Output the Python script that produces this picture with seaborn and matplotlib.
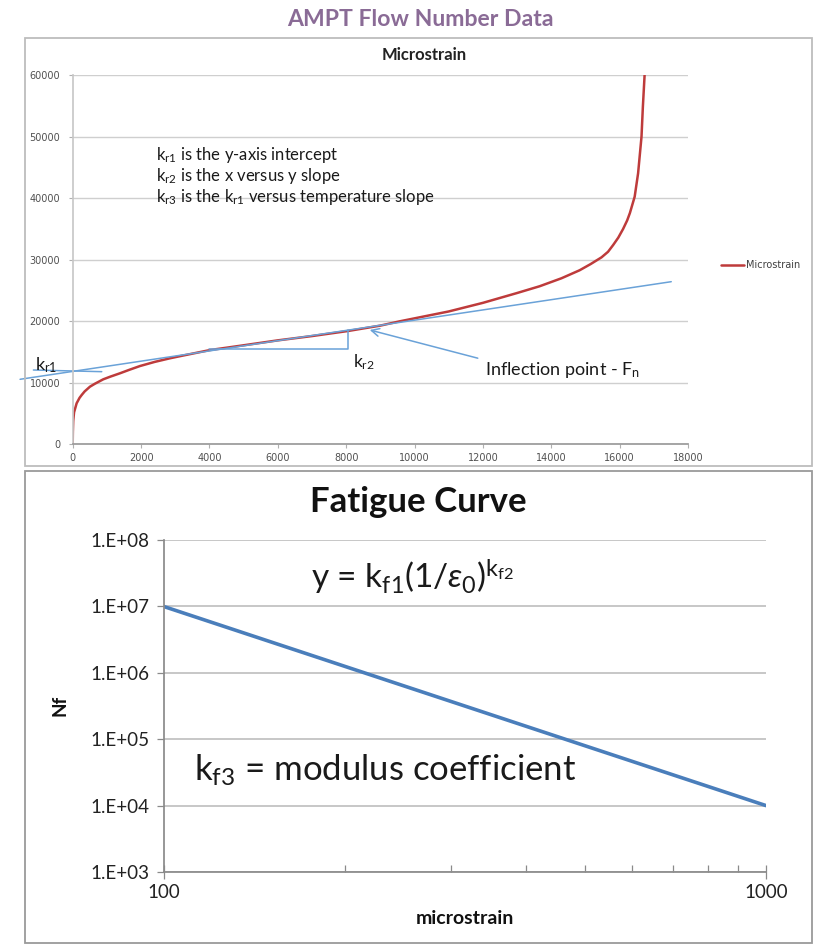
import matplotlib
matplotlib.use("Agg")
import matplotlib.pyplot as plt
import seaborn as sns
import pandas as pd
from matplotlib.patches import Rectangle
from matplotlib.ticker import FixedLocator, FixedFormatter, NullFormatter

# ---------------- data ----------------
cycles = [0, 5, 15, 40, 115, 200, 263, 350, 505, 650, 895, 1100, 1380, 1650, 1970,
          2400, 2840, 3200, 4020, 5000, 6000, 7000, 8050, 9000, 9570, 11000, 12000,
          13000, 13660, 14300, 14830, 15150, 15470, 15660, 15810, 15960, 16100,
          16220, 16300, 16440, 16540, 16640, 16680, 16730]
microstrain = [0, 2000, 3800, 5200, 6670, 7550, 8020, 8600, 9370, 9850, 10570, 11000,
               11540, 12100, 12730, 13400, 13980, 14400, 15330, 16100, 16900, 17600,
               18420, 19300, 20000, 21600, 23000, 24600, 25700, 27000, 28300, 29300,
               30400, 31300, 32400, 33600, 35000, 36400, 37600, 40260, 44060, 50020,
               54900, 60000]
tangent_x = [-1540, 17510]
tangent_y = [10570, 26440]
kr1_pointer_x = [-1150, 850]
kr1_pointer_y = [12080, 11810]
slope_x = [4000, 8060, 8060]
slope_y = [15450, 15450, 18580]
x_ticks_top = [0, 2000, 4000, 6000, 8000, 10000, 12000, 14000, 16000, 18000]
y_ticks_top = [0, 10000, 20000, 30000, 40000, 50000, 60000]

fatigue_strain = [100, 1000]
fatigue_nf = [1e7, 1e4]
y_ticks_fat = [1e3, 1e4, 1e5, 1e6, 1e7, 1e8]
y_labels_fat = ["1.E+03", "1.E+04", "1.E+05", "1.E+06", "1.E+07", "1.E+08"]
x_ticks_fat = [100, 1000]
x_labels_fat = ["100", "1000"]
x_minor_fat = [200, 300, 400, 500, 600, 700, 800, 900]

# ---------------- style ----------------
sns.set_theme(style="white")
plt.rcParams['font.family'] = ['Lato', 'DejaVu Sans']
plt.rcParams['mathtext.fontset'] = 'custom'
plt.rcParams['mathtext.rm'] = 'Lato'
plt.rcParams['mathtext.it'] = 'Lato:italic'
plt.rcParams['mathtext.bf'] = 'Lato:bold'

W, H = 814, 944
fig = plt.figure(figsize=(W / 100, H / 100), dpi=100)

def fx(px):
    return px / W

def fy(py):
    return 1 - py / H

RED = '#BE3B3B'
LBLUE = '#6aa2d8'
BLUE = '#4a7ebb'
GRID = '#cfcfcf'

# frames
fig.patches.append(Rectangle((fx(25), fy(466)), (812 - 25) / W, (466 - 38) / H,
                             transform=fig.transFigure, fill=False, ec='#bdbdbd', lw=1.3))
fig.patches.append(Rectangle((fx(25), fy(943)), (812 - 25) / W, (943 - 471) / H,
                             transform=fig.transFigure, fill=False, ec='#9a9a9a', lw=1.3))

fig.text(fx(420), fy(19), "AMPT Flow Number Data", color='#8a6b96', fontsize=16.6,
         fontweight='bold', ha='center', va='center')
fig.text(fx(424), fy(55), "Microstrain", color='#222222', fontsize=12,
         fontweight='bold', ha='center', va='center')

# ---------------- top chart ----------------
ax1 = fig.add_axes([fx(72.7), fy(444.3), (688 - 72.7) / W, (444.3 - 75.3) / H])
df_top = pd.DataFrame({'cycles': cycles, 'microstrain': microstrain})
sns.lineplot(data=df_top, x='cycles', y='microstrain', ax=ax1, color=RED, lw=1.8,
             sort=False, estimator=None, label='Microstrain')
ax1.lines[-1].set_solid_joinstyle('round')
sns.lineplot(x=tangent_x, y=tangent_y, ax=ax1, color=LBLUE, lw=1.1, sort=False,
             estimator=None)
ax1.lines[-1].set_clip_on(False)
sns.lineplot(x=kr1_pointer_x, y=kr1_pointer_y, ax=ax1, color=LBLUE, lw=1.1,
             sort=False, estimator=None)
ax1.lines[-1].set_clip_on(False)
sns.lineplot(x=slope_x, y=slope_y, ax=ax1, color=LBLUE, lw=1.1, sort=False,
             estimator=None)
ax1.annotate("", xy=(8690, 18590), xytext=(11850, 14000),
             arrowprops=dict(arrowstyle='->', color=LBLUE, lw=1.1, mutation_scale=14,
                             shrinkA=0, shrinkB=0))

ax1.set_xlim(0, 18000)
ax1.set_ylim(0, 60000)
ax1.set_xticks(x_ticks_top)
ax1.set_yticks(y_ticks_top)
ax1.set_xticklabels([str(v) for v in x_ticks_top])
ax1.set_yticklabels([str(v) for v in y_ticks_top])
ax1.tick_params(axis='both', labelsize=7, labelcolor='#505050', color='#b0b0b0',
                length=3, width=0.8, direction='out', bottom=True, left=True)
ax1.tick_params(axis='x', pad=3)
ax1.tick_params(axis='y', pad=6)
for lab in ax1.get_xticklabels() + ax1.get_yticklabels():
    lab.set_family(['DejaVu Sans'])
ax1.yaxis.grid(True, color=GRID, lw=1.0)
ax1.xaxis.grid(False)
ax1.set_axisbelow(True)
for s in ['top', 'right']:
    ax1.spines[s].set_visible(False)
ax1.spines['left'].set_color('#c8c8c8')
ax1.spines['bottom'].set_color('#9a9a9a')
ax1.set_xlabel('')
ax1.set_ylabel('')

txt_kw = dict(fontsize=12, color='#1a1a1a', va='center', ha='left')
ax1.text(2450, 47040, r"$\mathregular{k_{r1}}$ is the y-axis intercept", **txt_kw)
ax1.text(2450, 43620, r"$\mathregular{k_{r2}}$ is the x versus y slope", **txt_kw)
ax1.text(2450, 40200, r"$\mathregular{k_{r3}}$ is the $\mathregular{k_{r1}}$ versus temperature slope", **txt_kw)
ax1.text(-1100, 12900, r"$\mathregular{k_{r1}}$", fontsize=13, color='#1a1a1a',
         va='center', ha='left', clip_on=False)
ax1.text(8200, 13400, r"$\mathregular{k_{r2}}$", fontsize=12.5, color='#1a1a1a',
         va='center', ha='left')
ax1.text(12060, 12100, r"Inflection point - $\mathregular{F_{n}}$", fontsize=13,
         color='#1a1a1a', va='center', ha='left')

leg = ax1.legend(loc='center left', bbox_to_anchor=(fx(716), fy(265)),
                 bbox_transform=fig.transFigure, frameon=False, fontsize=7,
                 handlelength=2.4, handletextpad=0.2, borderpad=0)
for t in leg.get_texts():
    t.set_color('#404040')
    t.set_family(['DejaVu Sans'])

# ---------------- bottom chart ----------------
fig.text(fx(418), fy(502), "Fatigue Curve", fontsize=25, fontweight='bold',
         color='#111111', ha='center', va='center')
ax2 = fig.add_axes([fx(163.5), fy(872), (766 - 163.5) / W, (872 - 540) / H])
df_fat = pd.DataFrame({'strain': fatigue_strain, 'nf': fatigue_nf})
sns.lineplot(data=df_fat, x='strain', y='nf', ax=ax2, color=BLUE, lw=2.6,
             sort=False, estimator=None)
ax2.set_xscale('log')
ax2.set_yscale('log')
ax2.set_xlim(100, 1000)
ax2.set_ylim(1e3, 1e8)
ax2.xaxis.set_major_locator(FixedLocator(x_ticks_fat))
ax2.xaxis.set_major_formatter(FixedFormatter(x_labels_fat))
ax2.xaxis.set_minor_locator(FixedLocator(x_minor_fat))
ax2.xaxis.set_minor_formatter(NullFormatter())
ax2.yaxis.set_major_locator(FixedLocator(y_ticks_fat))
ax2.yaxis.set_major_formatter(FixedFormatter(y_labels_fat))
ax2.yaxis.set_minor_locator(FixedLocator([]))
ax2.tick_params(axis='x', which='major', direction='inout', length=10, width=0.9,
                color='#8a8a8a', labelsize=13.5, labelcolor='#222222', pad=4,
                bottom=True)
ax2.tick_params(axis='x', which='minor', direction='in', length=5, width=0.9,
                color='#8a8a8a', bottom=True)
ax2.tick_params(axis='y', which='major', direction='out', length=5, width=0.9,
                color='#8a8a8a', labelsize=13.5, labelcolor='#222222', pad=5,
                left=True)
ax2.yaxis.grid(True, which='major', color='#b8b8b8', lw=1.1)
ax2.xaxis.grid(False)
ax2.set_axisbelow(True)
for s in ['top', 'right']:
    ax2.spines[s].set_visible(False)
ax2.spines['left'].set_color('#8a8a8a')
ax2.spines['bottom'].set_color('#8a8a8a')
ax2.set_xlabel('')
ax2.set_ylabel('')
ax2.text(0.244, 0.886, r"y = $\mathregular{k_{f1}(1/}\varepsilon_{0}\mathregular{)^{k_{f2}}}$",
         transform=ax2.transAxes, fontsize=24, color='#1a1a1a', ha='left', va='center')
ax2.text(0.05, 0.307, r"$\mathregular{k_{f3}}$ = modulus coefficient",
         transform=ax2.transAxes, fontsize=25, color='#1a1a1a', ha='left', va='center')
fig.text(fx(60), fy(705), "Nf", fontsize=13.5, fontweight='bold', rotation=90,
         ha='center', va='center', color='#111111')
fig.text(fx(465), fy(918), "microstrain", fontsize=14, fontweight='bold',
         ha='center', va='center', color='#111111')

fig.savefig("out.png", dpi=100)
